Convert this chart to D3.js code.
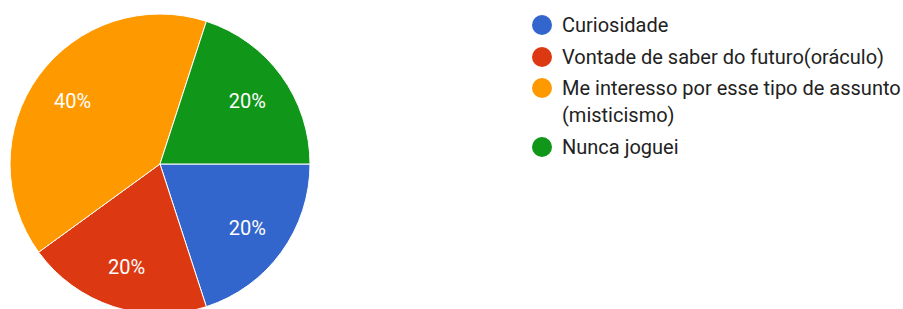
<!DOCTYPE html>
<html lang="pt">
<head>
	<meta charset="UTF-8"/>
	<title>Pie chart</title>
	<script src="https://d3js.org/d3.v7.min.js"></script>
	<style>
		body { margin: 0; background: #fff; }
		svg text { font-family: Roboto, Arial, sans-serif; }
		.slice { stroke: #fff; stroke-width: 1; }
		.pct { fill: #fff; font-size: 20px; }
		.legend text { fill: #222; font-size: 20px; }
	</style>
</head>
<body>
	<div id="chart"></div>
	<script>
	var w = 903;
	var h = 309;

	// dados
	var categories = ["Curiosidade", "Vontade de saber do futuro(oráculo)",
		"Me interesso por esse tipo de assunto (misticismo)", "Nunca joguei"];
	var legendLines = [["Curiosidade"], ["Vontade de saber do futuro(oráculo)"],
		["Me interesso por esse tipo de assunto", "(misticismo)"], ["Nunca joguei"]];
	var values = [20, 20, 40, 20];
	var colors = ["#3366cc", "#dc3912", "#ff9900", "#109618"];

	var cx = 160, cy = 164, radius = 150;

	var svg = d3.select("#chart")
				.append("svg")
				.attr("width", w)
				.attr("height", h);

	var color = d3.scaleOrdinal()
					.domain(categories)
					.range(colors);

	var pie = d3.pie()
				.sort(null)
				.startAngle(Math.PI / 2)
				.endAngle(Math.PI / 2 + 2 * Math.PI)
				.value(function(d){ return d.value; });

	var data = categories.map(function(c, i){
		return { name: c, value: values[i] };
	});

	var arc = d3.arc().innerRadius(0).outerRadius(radius);
	var labelArc = d3.arc().innerRadius(108).outerRadius(108);

	var g = svg.append("g")
				.attr("transform", "translate(" + cx + "," + cy + ")");

	var arcs = g.selectAll("g.arc")
				.data(pie(data))
				.enter()
				.append("g");

	arcs.append("path")
		.attr("class", "slice")
		.attr("d", arc)
		.style("fill", function(d){ return color(d.data.name); });

	var total = d3.sum(values);
	arcs.append("text")
		.attr("class", "pct")
		.attr("transform", function(d){
			return "translate(" + labelArc.centroid(d) + ")";
		})
		.attr("text-anchor", "middle")
		.attr("dy", "0.36em")
		.text(function(d){ return Math.round(d.data.value / total * 100) + "%"; });

	// legenda
	var rowY = [25, 57, 88, 147];
	var legend = svg.append("g").attr("class", "legend");

	var items = legend.selectAll("g")
				.data(categories)
				.enter()
				.append("g")
				.attr("transform", function(d, i){ return "translate(542," + rowY[i] + ")"; });

	items.append("circle")
		.attr("r", 10)
		.style("fill", function(d){ return color(d); });

	items.each(function(d, i){
		var t = d3.select(this).append("text")
					.attr("x", 20)
					.attr("dy", "0.36em");
		legendLines[i].forEach(function(line, j){
			t.append("tspan")
				.attr("x", 20)
				.attr("dy", j === 0 ? "0.36em" : 27)
				.text(line);
		});
	});
	</script>
</body>
</html>
